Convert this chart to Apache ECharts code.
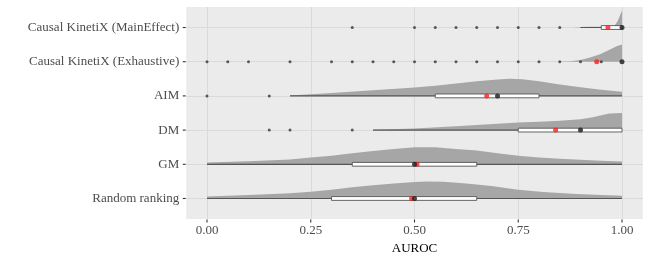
<!DOCTYPE html>
<html>
<head>
<meta charset="utf-8">
<script src="https://cdn.jsdelivr.net/npm/echarts@6/dist/echarts.min.js"></script>
<style>html,body{margin:0;padding:0;background:#fff}#c{width:649px;height:260px}</style>
</head>
<body>
<div id="c"></div>
<script>
// Rows from bottom (1) to top (6)
const categories = ['Random ranking', 'GM', 'DM', 'AIM', 'Causal KinetiX (Exhaustive)', 'Causal KinetiX (MainEffect)'];
const xTicks = [0, 0.25, 0.5, 0.75, 1];
const rowTicks = [1, 2, 3, 4, 5, 6];
const q1 = [0.30, 0.35, 0.75, 0.55, 1.00, 0.95];
const medians = [0.50, 0.50, 0.90, 0.70, 1.00, 1.00];
const q3 = [0.65, 0.65, 1.00, 0.80, 1.00, 1.00];
const whiskerLow = [0.00, 0.00, 0.40, 0.20, 1.00, 0.90];
const whiskerHigh = [1.00, 1.00, 1.00, 1.00, 1.00, 1.00];
const means = [0.493, 0.506, 0.84, 0.674, 0.939, 0.966];
const outliersRandom = [];
const outliersGM = [];
const outliersDM = [0.15, 0.20, 0.35];
const outliersAIM = [0.00, 0.15];
const outliersExhaustive = [0.00, 0.05, 0.10, 0.20, 0.30, 0.35, 0.40, 0.45, 0.50, 0.55, 0.60, 0.65, 0.70, 0.75, 0.80, 0.85, 0.90, 0.95];
const outliersMainEffect = [0.35, 0.50, 0.55, 0.60, 0.65, 0.70, 0.75, 0.80, 0.85];
// relative density (max = 1) at AUROC values
const densityRandom = [[0,0.12],[0.1,0.2],[0.2,0.31],[0.25,0.4],[0.3,0.51],[0.35,0.65],[0.4,0.77],[0.45,0.88],[0.5,0.96],[0.53,1.0],[0.57,0.98],[0.61,0.91],[0.65,0.82],[0.69,0.71],[0.75,0.51],[0.81,0.38],[0.89,0.26],[0.95,0.2],[1.0,0.16]];
const densityGM = [[0,0.1],[0.1,0.18],[0.2,0.28],[0.25,0.4],[0.3,0.5],[0.35,0.64],[0.4,0.78],[0.45,0.9],[0.5,1.0],[0.55,0.99],[0.6,0.9],[0.65,0.8],[0.7,0.64],[0.75,0.5],[0.8,0.39],[0.85,0.33],[0.9,0.27],[0.95,0.21],[1.0,0.16]];
const densityDM = [[0.4,0.02],[0.5,0.1],[0.6,0.23],[0.7,0.37],[0.75,0.44],[0.8,0.49],[0.85,0.55],[0.9,0.64],[0.93,0.75],[0.95,0.87],[0.97,0.97],[1.0,1.0]];
const densityAIM = [[0.2,0.02],[0.3,0.17],[0.4,0.33],[0.5,0.49],[0.55,0.59],[0.6,0.72],[0.65,0.85],[0.7,0.96],[0.73,1.0],[0.76,0.98],[0.8,0.85],[0.85,0.66],[0.9,0.5],[0.95,0.36],[1.0,0.24]];
const densityExhaustive = [[0.85,0.01],[0.875,0.03],[0.9,0.1],[0.923,0.25],[0.947,0.44],[0.97,0.7],[0.987,0.9],[1.0,1.0]];
const densityMainEffect = [[0.88,0.0],[0.9,0.03],[0.92,0.05],[0.95,0.04],[0.97,0.05],[0.98,0.08],[0.985,0.2],[0.99,0.4],[0.995,0.7],[1.0,1.0]];

const outliers = [outliersRandom, outliersGM, outliersDM, outliersAIM, outliersExhaustive, outliersMainEffect];
const densities = [densityRandom, densityGM, densityDM, densityAIM, densityExhaustive, densityMainEffect];
const VIOLIN_HEIGHT = 0.5; // in row units
const FONT = '"Liberation Serif", "DejaVu Serif", serif';
const X_MIN = -0.05, X_MAX = 1.05, Y_MIN = 0.4, Y_MAX = 6.6;

const rowData = categories.map((c, i) => [whiskerLow[i], i + 1, i]);
const outlierData = [];
outliers.forEach((arr, i) => arr.forEach(v => outlierData.push([v, i + 1])));
const meanData = means.map((v, i) => [v, i + 1]);
const medianData = medians.map((v, i) => [v, i + 1]);

// panel geometry
const P = {left: 186.25, right: 6.25, top: 7, bottom: 41};
const W = 649 - P.left - P.right, H = 260 - P.top - P.bottom;
const pxPerX = W / (X_MAX - X_MIN), pxPerRow = H / (Y_MAX - Y_MIN);

const chart = echarts.init(document.getElementById('c'), null, {renderer: 'canvas'});
chart.setOption({
  animation: false,
  grid: [
    {left: P.left, right: P.right, top: P.top, bottom: P.bottom, show: true, backgroundColor: '#EBEBEB', borderWidth: 0},
    {left: P.left + 0.05 * pxPerX, right: P.right + 0.05 * pxPerX, top: P.top, bottom: P.bottom, show: false},
    {left: P.left, right: P.right, top: P.top + 0.1 * pxPerRow, bottom: P.bottom + 0.1 * pxPerRow, show: false}
  ],
  xAxis: [
    {
      gridIndex: 0, type: 'value', min: X_MIN, max: X_MAX,
      axisLine: {show: false, onZero: false}, axisTick: {show: false, customValues: xTicks},
      axisLabel: {show: false, customValues: xTicks},
      splitLine: {show: true, lineStyle: {color: '#DADADA', width: 1}}
    },
    {
      gridIndex: 1, type: 'value', min: 0, max: 1, interval: 0.25,
      name: 'AUROC', nameLocation: 'middle', nameGap: 20,
      nameTextStyle: {fontFamily: FONT, fontSize: 13, color: '#000'},
      axisLine: {show: false, onZero: false},
      axisTick: {show: false},
      axisLabel: {formatter: v => v.toFixed(2), fontFamily: FONT, fontSize: 13, color: '#4D4D4D', margin: 5},
      splitLine: {show: false}
    },
    {gridIndex: 2, type: 'value', show: false, min: 0, max: 1}
  ],
  yAxis: [
    {
      gridIndex: 0, type: 'value', min: Y_MIN, max: Y_MAX,
      axisLine: {show: false, onZero: false}, axisTick: {show: false, customValues: rowTicks},
      axisLabel: {show: false, customValues: rowTicks},
      splitLine: {show: true, lineStyle: {color: '#DADADA', width: 1}}
    },
    {gridIndex: 1, type: 'value', show: false, min: 0, max: 1},
    {
      gridIndex: 2, type: 'category', data: categories,
      axisLine: {show: false, onZero: false},
      axisTick: {show: false},
      axisLabel: {fontFamily: FONT, fontSize: 13, color: '#4D4D4D', margin: 7},
      splitLine: {show: false}
    }
  ],
  series: [
    {
      type: 'custom', name: 'density', z: 2, xAxisIndex: 0, yAxisIndex: 0,
      data: rowData,
      renderItem: function (params, api) {
        const i = api.value(2);
        const row = i + 1;
        const pts = densities[i];
        const poly = pts.map(p => api.coord([p[0], row + p[1] * VIOLIN_HEIGHT]));
        poly.push(api.coord([pts[pts.length - 1][0], row]));
        poly.push(api.coord([pts[0][0], row]));
        return {type: 'polygon', shape: {points: poly}, style: {fill: '#A6A6A6', stroke: null}};
      }
    },
    {
      type: 'custom', name: 'box', z: 3, xAxisIndex: 0, yAxisIndex: 0,
      data: rowData,
      renderItem: function (params, api) {
        const i = api.value(2);
        const row = i + 1;
        const children = [];
        const a = api.coord([whiskerLow[i], row]);
        const b = api.coord([whiskerHigh[i], row]);
        if (b[0] > a[0]) {
          children.push({type: 'line', shape: {x1: a[0], y1: a[1], x2: b[0], y2: b[1]}, style: {stroke: '#555555', lineWidth: 1.2}});
        }
        const l = api.coord([q1[i], row]);
        const r = api.coord([q3[i], row]);
        if (r[0] > l[0]) {
          children.push({type: 'rect', shape: {x: l[0], y: l[1] - 1.9, width: r[0] - l[0], height: 3.8}, style: {fill: '#FFFFFF', stroke: '#555555', lineWidth: 0.9}});
        }
        return {type: 'group', children: children};
      }
    },
    {
      // axis ticks drawn at tick values through the panel's own scales
      type: 'custom', name: 'ticks', z: 7, xAxisIndex: 0, yAxisIndex: 0, silent: true, clip: false,
      data: [[0.5, 3.5]],
      renderItem: function (params, api) {
        const children = [];
        xTicks.forEach(v => {
          const p = api.coord([v, Y_MIN]);
          children.push({type: 'line', shape: {x1: p[0], y1: p[1] + 0.5, x2: p[0], y2: p[1] + 3.5}, style: {stroke: '#333333', lineWidth: 1.1}});
        });
        rowTicks.forEach(v => {
          const p = api.coord([X_MIN, v]);
          children.push({type: 'line', shape: {x1: p[0] - 3.5, y1: p[1], x2: p[0] - 0.5, y2: p[1]}, style: {stroke: '#333333', lineWidth: 1.1}});
        });
        return {type: 'group', children: children};
      }
    },
    {type: 'scatter', name: 'outliers', z: 4, xAxisIndex: 0, yAxisIndex: 0, data: outlierData, symbolSize: 3, itemStyle: {color: '#333333'}, silent: true},
    {type: 'scatter', name: 'mean', z: 5, xAxisIndex: 0, yAxisIndex: 0, data: meanData, symbolSize: 5, itemStyle: {color: '#FF1A1A'}, silent: true},
    {type: 'scatter', name: 'median', z: 6, xAxisIndex: 0, yAxisIndex: 0, data: medianData, symbolSize: 5, itemStyle: {color: '#1A1A1A'}, silent: true}
  ]
});
</script>
</body>
</html>
